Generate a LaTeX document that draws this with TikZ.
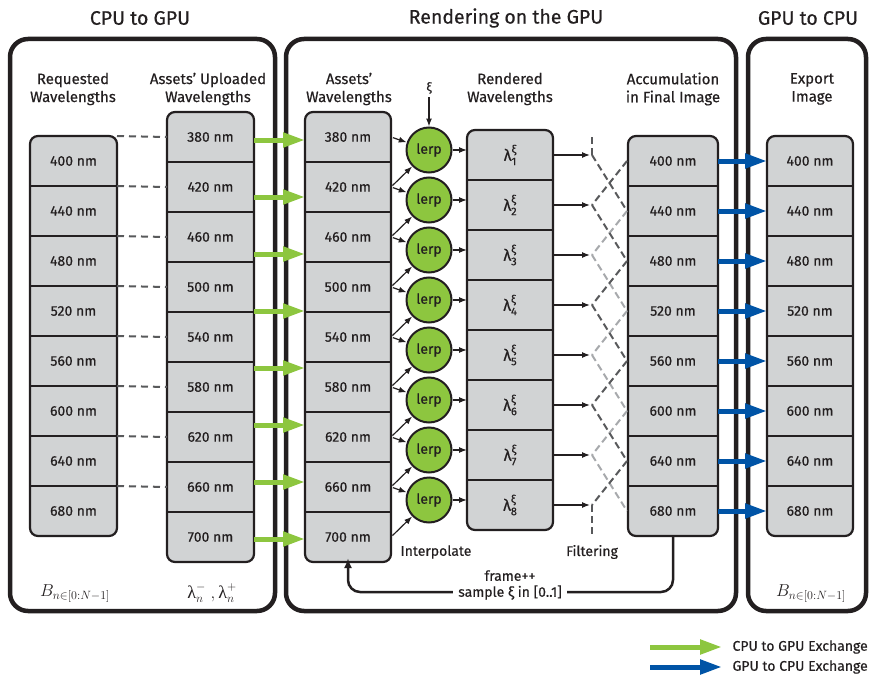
\documentclass[tikz,border=0pt]{standalone}
\usepackage{fontspec}
\setmainfont{Fira Sans}[FakeBold=0.5]
\newfontfamily\greekserif{Liberation Serif}
\usetikzlibrary{arrows.meta}

\definecolor{ink}{HTML}{231F20}
\definecolor{cellgray}{HTML}{D1D3D4}
\definecolor{nvgreen}{HTML}{8DC63F}
\definecolor{xblue}{HTML}{0054A6}
\definecolor{dashdark}{HTML}{58595B}
\definecolor{dashlight}{HTML}{A7A9AC}

% rendered wavelength: lambda with stacked xi and index
\newcommand{\lamx}[1]{{\fontsize{16}{18}\selectfont λ}\rlap{\raisebox{1.05ex}{\fontsize{11}{11}\selectfont ξ}}\raisebox{-0.6ex}{\fontsize{11}{11}\selectfont #1}}

% a column of stacked wavelength cells
% #1 name, #2 x centre, #3 y top, #4 width, #5 row height, #6 rows, #7 labels
\newcommand{\wavecolumn}[7]{%
  \fill[cellgray, rounded corners=8pt] ({#2-#4/2},#3) rectangle ({#2+#4/2},{#3+#5*#6});
  \foreach \t [count=\i] in {#7} {
    \node[cell, minimum width=#4pt, minimum height=#5pt] (#1\i) at (#2,{#3+#5*(\i-0.5)}) {\t};
  }
  \foreach \i in {2,...,#6} \draw[divider] (#1\i.north west) -- (#1\i.north east);
  \draw[boxline, rounded corners=8pt] ({#2-#4/2},#3) rectangle ({#2+#4/2},{#3+#5*#6});
}

\tikzset{
  cell/.style={inner sep=0pt, outer sep=0pt, text=ink, font=\fontsize{14}{16}\selectfont},
  boxline/.style={draw=ink, line width=2.2pt},
  divider/.style={draw=ink, line width=2pt},
  panel/.style={draw=ink, line width=4.5pt, rounded corners=18pt},
  title/.style={text=ink, font=\fontsize{19.5}{22}\selectfont},
  header/.style={text=ink, align=center, font=\fontsize{15}{18}\selectfont},
  caption/.style={text=ink, font=\fontsize{14}{16}\selectfont},
  lerpnode/.style={circle, fill=nvgreen, draw=ink, line width=2pt, minimum size=45pt,
    inner sep=0pt, text=ink, font=\fontsize{14}{16}\selectfont},
  smallarrow/.style={draw=ink, line width=1.2pt, -{Latex[length=8pt,width=6pt]}},
  greenarrow/.style={draw=nvgreen, line width=5pt, -{Triangle[length=22pt,width=14pt]}},
  bluearrow/.style={draw=xblue, line width=5pt, -{Triangle[length=22pt,width=14pt]}},
  reqdash/.style={draw=dashdark, line width=2pt, dash pattern=on 7pt off 5pt},
  fdash/.style={line width=2pt, dash pattern=on 7pt off 4pt},
  loopline/.style={draw=ink, line width=2.5pt, rounded corners=12pt},
  mathlabel/.style={text=ink, font=\fontsize{18}{20}\selectfont},
}

\begin{document}
\begin{tikzpicture}[x=1pt, y=-1pt]
\useasboundingbox (0,0) rectangle (870,677);

% stage panels
\draw[panel] (10,39) rectangle (275,611);
\draw[panel] (286,39) rectangle (736,611);
\draw[panel] (748,39) rectangle (866,611);

\node[title] (t1) at (140,18) {CPU to GPU};
\node[title] (t2) at (506,18) {Rendering on the GPU};
\node[title] (t3) at (808,18) {GPU to CPU};

% column headers
\node[header] (h1) at (73,89) {Requested\\Wavelengths};
\node[header] (h2) at (208,89) {Assets’ Uploaded\\Wavelengths};
\node[header] (h3) at (349,89) {Assets’\\Wavelengths};
\node[header] (h4) at (510,89) {Rendered\\Wavelengths};
\node[header] (h5) at (673,89) {Accumulation\\in Final Image};
\node[header] (h6) at (812,89) {Export\\Image};

% wavelength columns
\wavecolumn{req}{73.5}{136}{87}{50}{8}{400 nm,440 nm,480 nm,520 nm,560 nm,600 nm,640 nm,680 nm}
\wavecolumn{up}{210.5}{112}{87}{50}{9}{380 nm,420 nm,460 nm,500 nm,540 nm,580 nm,620 nm,660 nm,700 nm}
\wavecolumn{aw}{348}{112}{86}{50}{9}{380 nm,420 nm,460 nm,500 nm,540 nm,580 nm,620 nm,660 nm,700 nm}
\wavecolumn{rw}{510}{130}{86}{50}{8}{\lamx1,\lamx2,\lamx3,\lamx4,\lamx5,\lamx6,\lamx7,\lamx8}
\wavecolumn{acc}{673}{136}{90}{50}{8}{400 nm,440 nm,480 nm,520 nm,560 nm,600 nm,640 nm,680 nm}
\wavecolumn{ex}{810}{136}{86}{50}{8}{400 nm,440 nm,480 nm,520 nm,560 nm,600 nm,640 nm,680 nm}

% requested bin borders map onto uploaded wavelengths
\foreach \i in {1,...,8} \draw[reqdash] (req\i.north east) -- (up\i.west);

% CPU to GPU uploads
\foreach \i in {1,...,8} {
  \coordinate (g\i) at (0,{140+57*(\i-1)});
  \draw[greenarrow] (up1.east |- g\i) -- (aw1.west |- g\i);
}

% interpolation
\foreach \i in {1,...,8} \node[lerpnode] (lp\i) at (429,{150+50*(\i-1)}) {lerp};
\foreach \i/\j in {1/2,2/3,3/4,4/5,5/6,6/7,7/8,8/9} {
  \draw[smallarrow, shorten <=2pt] (aw\i.east) -- (lp\i);
  \draw[smallarrow, shorten <=2pt] (aw\j.east) -- (lp\i);
  \draw[smallarrow] (lp\i.east) -- (rw\i.west |- lp\i.east);
}
\node[text=ink, font=\fontsize{12}{14}\selectfont] (xi) at (429,88) {ξ};
\draw[smallarrow] (xi) -- (lp1);

% filtering lattice
\coordinate (fcolL) at (592,0);
\coordinate (fcolR) at (627,0);
\foreach \i in {1,...,8} {
  \coordinate (fl\i) at (rw\i.east -| fcolL);
  \coordinate (fr\i) at (acc\i.west -| fcolR);
  \draw[smallarrow, shorten >=2pt] (rw\i.east) -- (fl\i);
}
\foreach \i/\j in {3/4,5/6,7/8} \draw[fdash, draw=dashlight] (fl\i) -- (fr\j);
\foreach \i/\j in {2/3,4/5,6/7} \draw[fdash, draw=dashlight] (fr\i) -- (fl\j);
\foreach \i/\j in {1/2,2/3,4/5,6/7} \draw[fdash, draw=dashdark] (fl\i) -- (fr\j);
\foreach \i/\j in {1/2,3/4,5/6,7/8} \draw[fdash, draw=dashdark] (fr\i) -- (fl\j);
\coordinate (ftop) at (592,137);
\coordinate (fbot) at (592,537);
\draw[fdash, draw=dashdark] (ftop) -- (fl1);
\draw[fdash, draw=dashdark] (fl8) -- (fbot);

\node[caption] (interp) at (436,552) {Interpolate};
\node[caption] (filt) at (592,552) {Filtering};

% GPU to CPU export
\foreach \i in {1,...,8} \draw[bluearrow] (acc\i.east) -- (ex\i.west);

% next frame feedback
\coordinate (loopy) at (0,592);
\draw[loopline, -{Latex[length=10pt,width=8pt]}, shorten >=-4pt]
  (acc8.south) -- (acc8.south |- loopy) -- (aw9.south |- loopy) -- (aw9.south);
\node[caption, fill=white, align=center, inner sep=5pt] (fb) at (510,585) {frame++\\sample ξ in [0..1]};

% bin notation
\node[mathlabel] (b1) at (75,594) {$B_{n\in[0:N-1]}$};
\node[mathlabel] (lam) at (212,593) {$\hbox{\greekserif λ}_n^{-}\ ,\hbox{\greekserif λ}_n^{+}$};
\node[mathlabel] (b2) at (811,594) {$B_{n\in[0:N-1]}$};

% legend
\coordinate (la1) at (650,647);
\coordinate (la2) at (722,647);
\coordinate (lb1) at (650,667);
\coordinate (lb2) at (722,667);
\draw[greenarrow] (la1) -- (la2);
\draw[bluearrow] (lb1) -- (lb2);
\node[caption, anchor=west] (lt1) at (729,647) {CPU to GPU Exchange};
\node[caption, anchor=west] (lt2) at (729,667) {GPU to CPU Exchange};
\end{tikzpicture}
\end{document}
